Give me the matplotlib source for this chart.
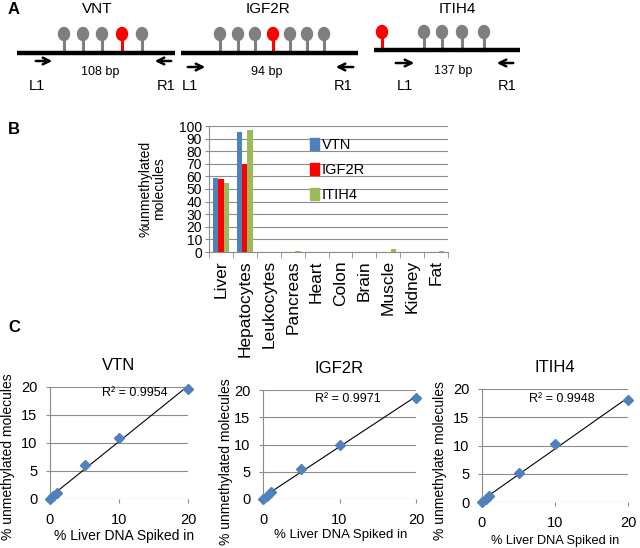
import numpy as np
import matplotlib
matplotlib.use("Agg")
import matplotlib.pyplot as plt
from matplotlib.patches import Ellipse, Patch

plt.rcParams["font.family"] = ["Liberation Sans", "DejaVu Sans"]

W, H = 640, 548

# ---- panel A: amplicon schematics (pixel layout) ----
genes = ["VNT", "IGF2R", "ITIH4"]
amplicon_sizes = ["108 bp", "94 bp", "137 bp"]
cpg_sites = [
    [64, 83, 102, 122, 142],
    [220, 238, 255, 273, 290, 307, 324],
    [382, 424, 442, 462, 484],
]
red_site = [3, 3, 0]

# ---- panel B: tissue bar chart ----
tissues = ["Liver", "Hepatocytes", "Leukocytes", "Pancreas", "Heart",
           "Colon", "Brain", "Muscle", "Kidney", "Fat"]
vtn_pct = [59, 95, 0, 0, 0, 0, 0, 0, 0, 0]
igf2r_pct = [58, 70, 0, 0, 0, 0, 0, 0, 0, 0]
itih4_pct = [55, 97, 0, 1, 0, 0, 0, 2, 0, 0.4]

# ---- panel C: spike-in titration ----
spike_x = [0, 0.5, 1, 5, 10, 20]
vtn_y = [0, 0.5, 1.1, 6.1, 10.9, 19.7]
igf2r_y = [0, 0.6, 1.2, 5.5, 10.0, 18.5]
itih4_y = [0, 0.5, 1.1, 5.2, 10.2, 18.0]
r2_labels = ["R² = 0.9954", "R² = 0.9971", "R² = 0.9948"]

BLUE = "#4F81BD"
RED = "#FF0000"
GREEN = "#9BBB59"
GRID = "#8C8C8C"

fig = plt.figure(figsize=(W / 100, H / 100), dpi=100)


def px_axes(left, top, right, bottom):
    return fig.add_axes([left / W, 1 - bottom / H, (right - left) / W, (bottom - top) / H])


# overlay in pixel coordinates for schematic + panel letters
over = fig.add_axes([0, 0, 1, 1])
over.set_xlim(0, W)
over.set_ylim(H, 0)
over.axis("off")

for letter, (lx, ly) in zip("ABC", [(8, 10), (8, 130), (8, 327)]):
    over.text(lx, ly, letter, fontsize=12, fontweight="bold", ha="left", va="center")

line_spans = [(17, 175, 53), (181, 358, 53), (374, 520, 50)]
head_y = [34, 34, 32]
title_x = [97, 268, 457]
right_arrows = [(33, 55, 61), (185, 208, 67), (393, 417, 63)]
left_arrows = [(152, 174, 61), (333, 356, 67), (494, 516, 63)]
bp_pos = [(100, 72), (267, 72), (453, 71)]
l1_pos = [(37, 86), (190, 86), (405, 86)]
r1_pos = [(166, 86), (343, 86), (507, 86)]

for i, gene in enumerate(genes):
    x0, x1, ly = line_spans[i]
    over.plot([x0, x1], [ly, ly], color="black", lw=3.2, solid_capstyle="butt", zorder=2)
    for j, cx in enumerate(cpg_sites[i]):
        c = RED if j == red_site[i] else "#7F7F7F"
        over.plot([cx, cx], [head_y[i], ly], color=c, lw=2.2, zorder=1)
        over.add_patch(Ellipse((cx, head_y[i]), 11, 13, color=c, zorder=3))
    over.text(title_x[i], 9, gene, fontsize=11, ha="center", va="center")
    ax0, ax1, ay = right_arrows[i]
    over.annotate("", xy=(ax1, ay), xytext=(ax0, ay),
                  arrowprops=dict(arrowstyle="->", color="black", lw=1.8, mutation_scale=12))
    ax0, ax1, ay = left_arrows[i]
    over.annotate("", xy=(ax0, ay), xytext=(ax1, ay),
                  arrowprops=dict(arrowstyle="->", color="black", lw=1.8, mutation_scale=12))
    over.text(bp_pos[i][0], bp_pos[i][1], amplicon_sizes[i], fontsize=9, ha="center", va="center")
    over.text(l1_pos[i][0], l1_pos[i][1], "L1", fontsize=10.5, ha="center", va="center")
    over.text(r1_pos[i][0], r1_pos[i][1], "R1", fontsize=10.5, ha="center", va="center")

# ---- panel B ----
axb = px_axes(209, 126, 448, 252)
x = np.arange(len(tissues))
w = 0.22
axb.bar(x - w, vtn_pct, w, color=BLUE, label="VTN", zorder=3)
axb.bar(x, igf2r_pct, w, color=RED, label="IGF2R", zorder=3)
axb.bar(x + w, itih4_pct, w, color=GREEN, label="ITIH4", zorder=3)
axb.set_xlim(-0.5, len(tissues) - 0.5)
axb.set_ylim(0, 100)
axb.set_yticks(range(0, 101, 10))
axb.yaxis.grid(True, color=GRID, lw=0.8, zorder=0)
axb.set_xticks(x)
axb.set_xticklabels(tissues, rotation=90, fontsize=12.5)
axb.set_xticks(np.arange(-0.5, len(tissues)), minor=True)
axb.tick_params(axis="x", which="major", length=0, pad=6)
axb.tick_params(axis="x", which="minor", length=4, color=GRID)
axb.tick_params(axis="y", labelsize=10, length=3, color=GRID, pad=2)
for s in ["top", "right"]:
    axb.spines[s].set_visible(False)
axb.spines["left"].set_color(GRID)
axb.spines["bottom"].set_color(GRID)
axb.set_ylabel("%unmethylated\nmolecules", fontsize=10, labelpad=9, linespacing=1.0)
handles = [Patch(color=BLUE), Patch(color=RED), Patch(color=GREEN)]
axb.legend(handles, ["VTN", "IGF2R", "ITIH4"], loc="upper left",
           bbox_to_anchor=(310 / W, 1 - 138 / H), bbox_transform=fig.transFigure,
           frameon=False, fontsize=10.5, handlelength=0.6, handleheight=0.9,
           handletextpad=0.2, labelspacing=0.75, borderaxespad=0, borderpad=0)

# ---- panel C ----
panels = [
    ("VTN", vtn_y, "% unmethylated molecules", (50, 387, 188, 499), (135, 393),
     (-0.254, 0.375), (0.54, -0.27), 10),
    ("IGF2R", igf2r_y, "% unmethylated molecules", (263, 390, 416, 499), (348, 399),
     (-0.196, 0.34), (0.51, -0.275), 9.5),
    ("ITIH4", itih4_y, "% unmethylate molecules", (482, 389, 628, 502), (562, 399),
     (-0.24, 0.363), (0.5, -0.29), 9.2),
]
for k, (name, yvals, ylab, box, r2pos, ylc, xlc, xl_fs) in enumerate(panels):
    ax = px_axes(*box)
    ax.set_xlim(0, 20)
    ax.set_ylim(0, 20)
    slope, icpt = np.polyfit(spike_x, yvals, 1)
    ax.plot([0, 20], [icpt, icpt + 20 * slope], color="black", lw=0.8, zorder=2)
    ax.plot(spike_x, yvals, "D", color=BLUE, ms=5.5, clip_on=False, zorder=3)
    ax.set_xticks([0, 10, 20])
    ax.set_yticks([0, 5, 10, 15, 20])
    ax.yaxis.grid(True, color=GRID, lw=0.8, zorder=0)
    ax.tick_params(axis="x", labelsize=10.5, length=3, color=GRID, pad=7)
    ax.tick_params(axis="y", labelsize=10.5, length=3, color=GRID, pad=6)
    for s in ["top", "right", "bottom"]:
        ax.spines[s].set_visible(False)
    ax.spines["left"].set_color(GRID)
    ax.set_title(name, fontsize=12, pad=12)
    ax.set_xlabel("% Liver DNA Spiked in", fontsize=xl_fs)
    ax.xaxis.set_label_coords(*xlc)
    ax.set_ylabel(ylab, fontsize=10)
    ax.yaxis.set_label_coords(*ylc)
    fig.text(r2pos[0] / W, 1 - r2pos[1] / H, r2_labels[k], fontsize=9,
             ha="center", va="center")

fig.savefig("out.png", dpi=100)
